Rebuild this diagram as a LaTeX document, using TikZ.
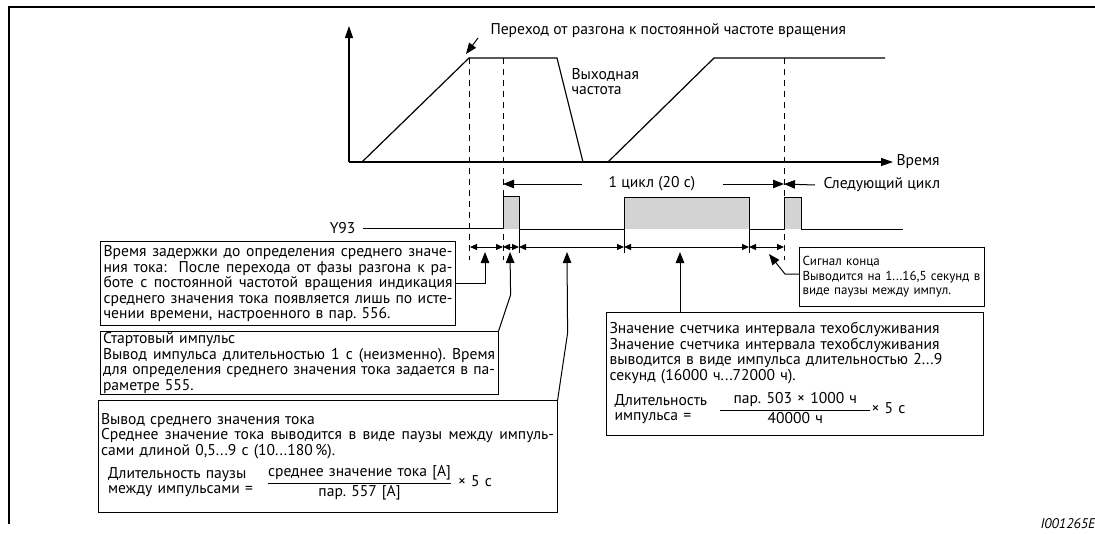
\documentclass[tikz,border=0pt]{standalone}
\usepackage{amsmath}
\usepackage{fontspec}
\setmainfont{PT Sans}
\usetikzlibrary{arrows.meta,positioning}
\definecolor{pulsegray}{RGB}{211,211,211}
\newcommand{\mainsize}{\fontsize{15.6}{15.5}\selectfont}
\newcommand{\smallsize}{\fontsize{13}{14.5}\selectfont}
% one justified line of a callout text
\newcommand{\jl}[1]{{\spaceskip=0pt\xspaceskip=0pt\makebox[\linewidth][s]{#1}}}
\frenchspacing

\begin{document}
\begin{tikzpicture}[x=1pt,y=-1pt,font=\mainsize,
    infobox/.style={draw,line width=1.1pt,anchor=north west,align=left,inner xsep=3pt,inner ysep=0pt},
    arr/.style={line width=1pt,-{Triangle[length=11pt,width=8.5pt]}},
    dim/.style={line width=1pt,{Triangle[length=7pt,width=6pt]}-{Triangle[length=7pt,width=6pt]}},
    dsh/.style={line width=1pt,dash pattern=on 6pt off 5pt},
    curve/.style={line width=1.2pt},
    sig/.style={line width=1pt}]
  \useasboundingbox (0,0) rectangle (1095,533);
  % frame
  \draw[line width=2.5pt] (9,524) -- (9,7) -- (1095,7);
  \node[anchor=base west,font=\fontsize{14}{14}\selectfont\itshape] (code) at (1037,528) {I001265E};

  % output frequency
  \node[anchor=west] (time) at (893,162) {Время};
  \draw[curve,-{Triangle[length=12pt,width=8pt]}] (349,162) -- (349,26);
  \draw[curve,-{Triangle[length=12pt,width=8pt]}] (349,162) -- (time.west);
  \draw[curve] (362,162) -- (469,58) -- (557,58) -- (583,162);
  \draw[curve] (608,162) -- (714,58) -- (885,58);
  \node[anchor=west,align=left] (fout) at (568,81.5) {Выходная\\частота};
  \node[anchor=west] (trans) at (487,31) {Переход от разгона к постоянной частоте вращения};
  \coordinate (acc) at (466,54);
  \draw[arr] ([xshift=-9pt,yshift=-7pt]trans.west) -- (acc);
  \foreach \x in {469,503,784}
    \draw[dsh] (\x,58) -- (\x,260);

  % cycle
  \node (cyc) at (652,184) {1 цикл (20 с)};
  \node[anchor=west] (nxt) at (820,185) {Следующий цикл};
  \coordinate (cycL) at (503,184);
  \coordinate (cycR) at (784,184);
  \draw[arr] ([xshift=-23pt]cyc.west) -- (cycL);
  \draw[arr] ([xshift=24pt]cyc.east) -- (cycR);
  \draw[arr] ([xshift=-5pt]nxt.west) -- (cycR);

  % Y93 signal
  \node[anchor=east] (y93) at (359,228) {Y93};
  \fill[pulsegray] (503,196) rectangle (519,229);
  \fill[pulsegray] (624,197) rectangle (749,229);
  \fill[pulsegray] (784,197) rectangle (801,229);
  \draw[sig] (363,228) -| (503,196) -| (519,229) -| (624,197) -| (749,229) -| (784,197) -| (801,229) -- (903,229);
  \foreach \x in {519,624,749}
    \draw[sig] (\x,229) -- (\x,253);
  \foreach \a/\b in {470/503,503/519,519/624,624/749,749/784}
    \draw[dim] (\a,247) -- (\b,247);

  % callouts
  \node[infobox,text width=349pt,minimum height=84pt] (dly) at (100,241) {%
    \jl{Время задержки до определения среднего значе-}\\
    \jl{ния тока:\ \ После перехода от фазы разгона к ра-}\\
    \jl{боте с постоянной частотой вращения индикация}\\
    \jl{среднего значения тока появляется лишь по исте-}\\
    чении времени, настроенного в пар.~556.};
  \node[infobox,text width=392pt,minimum height=63pt] (startp) at (99.5,331) {%
    Стартовый импульс\\
    \jl{Вывод импульса длительностью 1 с (неизменно). Время}\\
    \jl{для определения среднего значения тока задается в па-}\\
    раметре 555.};
  \node[infobox,text width=453pt,minimum height=112pt] (avg) at (97.5,400) {%
    Вывод среднего значения тока\\
    \jl{Среднее значение тока выводится в виде паузы между импуль-}\\
    сами длиной 0,5...9 с (10...180\,\%).\\[6pt]
    \hspace*{7pt}\begin{tabular}{@{}l@{}}Длительность паузы\\между импульсами =\end{tabular}\hspace{14pt}%
    $\dfrac{\text{среднее значение тока [A]}}{\text{пар. 557 [A]}}$\hspace{6pt}× 5 с\\[4pt]};
  \node[infobox,text width=179pt,minimum height=59pt,font=\smallsize] (endsig) at (799,247) {%
    Сигнал конца\\
    Выводится на 1...16,5 секунд~в\\
    виде паузы между импул.};
  \node[infobox,text width=371pt,minimum height=123pt] (mnt) at (606,312) {%
    Значение счетчика интервала техобслуживания\\
    Значение счетчика интервала техобслуживания\\
    выводится в виде импульса длительностью 2...9\\
    секунд (16000 ч...72000 ч).\\[8pt]
    \hspace*{5pt}\begin{tabular}{@{}l@{}}Длительность\\импульса =\end{tabular}\hspace{12pt}%
    $\dfrac{\text{\makebox[150pt]{пар. 503 × 1000 ч}}}{\text{40000 ч}}$× 5 с\\[24pt]};

  \coordinate (m1) at (485,252);
  \coordinate (m2) at (510,252);
  \coordinate (m3) at (567,252);
  \coordinate (m4) at (680,252);
  \coordinate (m5) at (769,254);
  \draw[arr] (dly.east) -| (m1);
  \draw[arr] (startp.north east) -- ++(12,-36) -- (m2);
  \draw[arr] (avg.north east) -- ++(10,-67) -- (m3);
  \draw[arr] (mnt.north -| m4) -- (m4);
  \draw[arr] ([yshift=3pt]endsig.west) -- ++(-14,0) -- (m5);
\end{tikzpicture}
\end{document}
